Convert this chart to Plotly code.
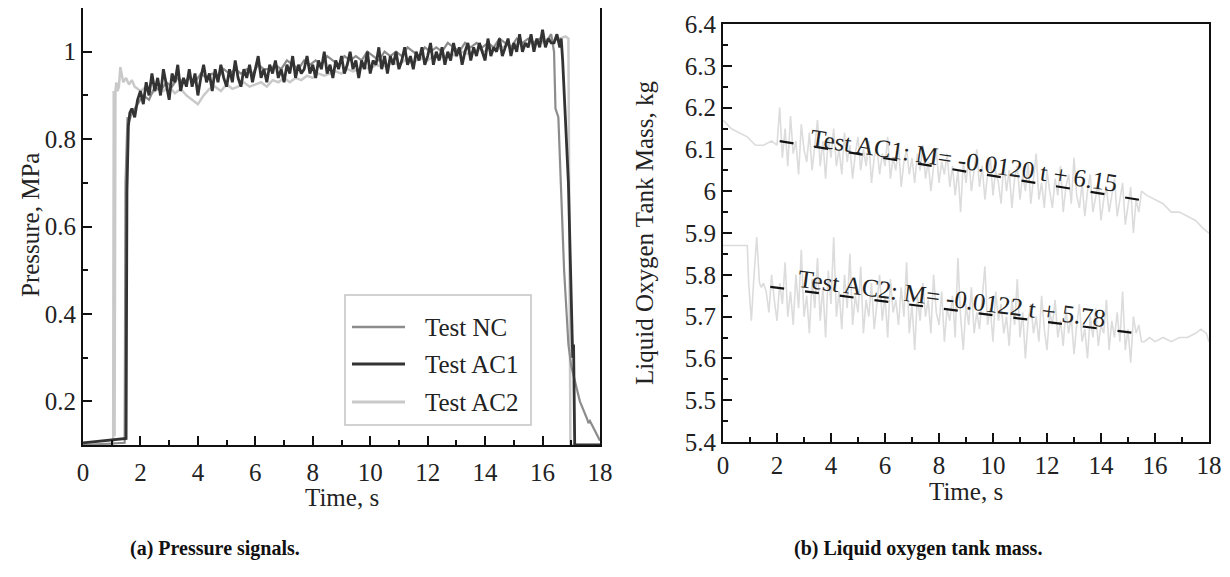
import plotly.graph_objects as go

# ---------------- data: (a) pressure signals ----------------
# Test AC1
p_ac1_head_t = [0.0, 0.5, 1.0, 1.5, 1.53, 1.58, 1.63]
p_ac1_head = [0.105, 0.108, 0.111, 0.115, 0.68, 0.83, 0.86]
p_ac1_noise_t0, p_ac1_noise_dt = 1.7, 0.1
p_ac1_noise = [
    0.87, 0.85, 0.89, 0.91, 0.88, 0.93, 0.90, 0.95, 0.91, 0.94,
    0.90, 0.96, 0.92, 0.89, 0.95, 0.93, 0.97, 0.91, 0.94, 0.92,
    0.96, 0.92, 0.95, 0.90, 0.94, 0.97, 0.93, 0.95, 0.91, 0.96,
    0.93, 0.97, 0.94, 0.92, 0.96, 0.93, 0.98, 0.94, 0.92, 0.96,
    0.94, 0.97, 0.93, 0.96, 0.99, 0.94, 0.96, 0.93, 0.97, 0.95,
    0.98, 0.94, 0.96, 0.93, 0.97, 0.95, 0.99, 0.94, 0.97, 0.95,
    0.96, 0.99, 0.95, 0.97, 0.94, 0.98, 0.96, 1.00, 0.95, 0.97,
    0.94, 0.98, 0.96, 0.99, 0.95, 0.97, 1.00, 0.96, 0.98, 0.94,
    0.98, 0.96, 1.00, 0.95, 0.98, 0.97, 1.01, 0.96, 0.99, 0.95,
    0.99, 0.97, 1.00, 0.96, 0.98, 1.01, 0.97, 0.99, 0.96, 1.00,
    0.98, 1.01, 0.97, 0.99, 1.02, 0.97, 1.00, 0.98, 1.01, 0.97,
    1.00, 0.98, 1.02, 0.99, 1.01, 0.97, 1.00, 1.02, 0.98, 1.01,
    0.99, 1.02, 1.00, 0.98, 1.03, 0.99, 1.01, 1.00, 1.03, 0.99,
    1.01, 1.03, 0.99, 1.02, 1.00, 1.04, 1.00, 1.02, 1.01, 1.04,
    1.00, 1.03, 1.01, 1.05, 1.01, 1.03, 1.02,
]
p_ac1_tail_t = [16.4, 16.5, 16.6, 16.65, 16.7, 16.9, 17.05, 17.08, 17.12, 18.0]
p_ac1_tail = [1.02, 1.04, 1.01, 1.03, 0.98, 0.70, 0.30, 0.33, 0.10, 0.10]

# Test NC
p_nc_head_t = [0.0, 1.45, 1.48, 1.55, 1.6]
p_nc_head = [0.10, 0.105, 0.70, 0.85, 0.84]
p_nc_noise_t0, p_nc_noise_dt = 1.7, 0.2
p_nc_noise = [
    0.86, 0.88, 0.90, 0.89, 0.92, 0.91, 0.93, 0.92, 0.94, 0.93,
    0.94, 0.93, 0.95, 0.94, 0.95, 0.94, 0.96, 0.95, 0.96, 0.95,
    0.96, 0.95, 0.97, 0.96, 0.96, 0.97, 0.96, 0.98, 0.97, 0.96,
    0.98, 0.97, 0.98, 0.97, 0.99, 0.98, 0.97, 0.99, 0.98, 0.99,
    0.98, 1.00, 0.99, 0.98, 1.00, 0.99, 1.00, 0.99, 1.01, 1.00,
    0.99, 1.01, 1.00, 1.01, 1.00, 1.02, 1.01, 1.00, 1.02, 1.01,
    1.02, 1.01, 1.02, 1.01, 1.03, 1.02, 1.01, 1.03, 1.02, 1.03,
    1.02, 1.03, 1.02, 1.04,
]
p_nc_tail_t = [16.4, 16.45, 16.55, 16.75, 16.9, 17.0, 17.3, 17.55, 17.6, 17.65, 18.0]
p_nc_tail = [1.00, 0.87, 0.85, 0.50, 0.33, 0.28, 0.20, 0.16, 0.15, 0.155, 0.11]

# Test AC2
p_ac2_head_t = [0.0, 1.05, 1.07, 1.1, 1.13, 1.16, 1.2, 1.25, 1.3, 1.35, 1.4, 1.5, 1.6, 1.7, 1.8, 1.9]
p_ac2_head = [0.10, 0.10, 0.91, 0.12, 0.91, 0.93, 0.91, 0.92, 0.965, 0.95, 0.93, 0.94, 0.925, 0.935, 0.92, 0.915]
p_ac2_noise_t0, p_ac2_noise_dt = 2.0, 0.2
p_ac2_noise = [
    0.91, 0.92, 0.905, 0.915, 0.91, 0.92, 0.905, 0.915, 0.90, 0.89,
    0.88, 0.90, 0.915, 0.92, 0.91, 0.925, 0.915, 0.92, 0.93, 0.92,
    0.925, 0.93, 0.92, 0.935, 0.93, 0.94, 0.93, 0.94, 0.935, 0.945,
    0.94, 0.95, 0.945, 0.95, 0.955, 0.95, 0.96, 0.955, 0.96, 0.965,
    0.96, 0.97, 0.965, 0.97, 0.975, 0.97, 0.98, 0.975, 0.98, 0.985,
    0.98, 0.99, 0.985, 0.99, 0.995, 0.99, 1.00, 0.995, 1.00, 1.005,
    1.00, 1.01, 1.005, 1.01, 1.015, 1.01, 1.02, 1.015, 1.02, 1.025,
    1.02, 1.03, 1.025, 1.03, 1.035,
]
p_ac2_tail_t = [16.9, 16.97, 18.0]
p_ac2_tail = [1.03, 0.10, 0.10]

series_names = ["Test NC", "Test AC1", "Test AC2"]
series_colors = ["#8c8c8c", "#333333", "#c9c9c9"]
series_widths = [2.2, 2.8, 2.5]

# ---------------- data: (b) liquid oxygen tank mass ----------------
m_ac1_head_t = [0.0, 0.3, 0.6, 0.9, 1.2, 1.5, 1.8, 2.0, 2.1]
m_ac1_head = [6.17, 6.15, 6.14, 6.13, 6.11, 6.11, 6.12, 6.11, 6.20]
m_ac1_noise_t0, m_ac1_noise_dt = 2.2, 0.1
m_ac1_noise = [
    6.08, 6.15, 6.06, 6.18, 6.09, 6.12, 6.04, 6.16, 6.10, 6.07,
    6.14, 6.05, 6.11, 6.17, 6.06, 6.12, 6.03, 6.13, 6.08, 6.15,
    6.06, 6.10, 6.04, 6.14, 6.07, 6.11, 6.03, 6.09, 6.13, 6.05,
    6.10, 6.06, 6.12, 6.02, 6.08, 6.11, 6.04, 6.09, 6.06, 6.13,
    6.03, 6.08, 6.05, 6.11, 6.01, 6.07, 6.10, 6.04, 6.08, 6.02,
    6.09, 6.05, 6.11, 6.03, 6.07, 6.00, 6.06, 6.10, 6.02, 6.07,
    6.04, 6.09, 6.01, 6.06, 5.99, 6.05, 5.95, 6.07, 6.02, 6.08,
    6.00, 6.05, 6.10, 6.01, 6.06, 5.98, 6.04, 6.08, 5.99, 6.05,
    6.02, 5.97, 6.07, 6.00, 6.05, 5.96, 6.03, 6.06, 5.98, 6.04,
    6.00, 6.07, 5.97, 6.03, 6.09, 5.98, 6.02, 5.96, 6.05, 6.00,
    5.96, 6.03, 5.99, 6.06, 5.95, 6.01, 6.04, 5.97, 6.08, 5.99,
    5.96, 6.02, 5.94, 6.00, 6.04, 5.95, 5.99, 6.02, 5.93, 5.98,
    6.01, 5.95, 5.99, 6.03, 5.94, 5.98, 6.02, 5.92, 5.97, 6.01,
    5.90, 5.98, 5.95, 6.00,
]
m_ac1_tail_t = [15.7, 16.0, 16.3, 16.6, 16.9, 17.2, 17.5, 17.8, 18.0]
m_ac1_tail = [5.99, 5.98, 5.97, 5.95, 5.95, 5.94, 5.93, 5.91, 5.90]

m_ac2_head_t = [0.0, 0.9, 0.95, 1.05, 1.15, 1.25, 1.35, 1.42]
m_ac2_head = [5.87, 5.87, 5.78, 5.69, 5.80, 5.89, 5.78, 5.77]
m_ac2_noise_t0, m_ac2_noise_dt = 1.5, 0.1
m_ac2_noise = [
    5.78, 5.76, 5.71, 5.80, 5.74, 5.69, 5.78, 5.73, 5.83, 5.70,
    5.76, 5.68, 5.80, 5.72, 5.86, 5.70, 5.75, 5.66, 5.79, 5.72,
    5.84, 5.69, 5.77, 5.65, 5.81, 5.73, 5.89, 5.70, 5.76, 5.67,
    5.80, 5.72, 5.85, 5.68, 5.75, 5.71, 5.82, 5.66, 5.74, 5.70,
    5.78, 5.67, 5.73, 5.80, 5.69, 5.75, 5.65, 5.79, 5.71, 5.74,
    5.68, 5.77, 5.70, 5.83, 5.66, 5.73, 5.62, 5.75, 5.69, 5.78,
    5.70, 5.74, 5.66, 5.80, 5.71, 5.68, 5.76, 5.64, 5.72, 5.69,
    5.75, 5.65, 5.84, 5.70, 5.62, 5.73, 5.68, 5.77, 5.66, 5.71,
    5.67, 5.74, 5.82, 5.68, 5.72, 5.64, 5.76, 5.69, 5.73, 5.66,
    5.70, 5.63, 5.74, 5.68, 5.79, 5.65, 5.71, 5.60, 5.69, 5.73,
    5.66, 5.70, 5.64, 5.75, 5.67, 5.62, 5.71, 5.68, 5.74, 5.65,
    5.69, 5.63, 5.72, 5.66, 5.70, 5.61, 5.68, 5.73, 5.64, 5.67,
    5.60, 5.70, 5.65, 5.72, 5.63, 5.68, 5.66, 5.74, 5.62, 5.69,
    5.65, 5.71, 5.64, 5.76, 5.62, 5.67, 5.59, 5.70, 5.66, 5.68,
    5.64,
]
m_ac2_tail_t = [15.6, 15.8, 16.0, 16.3, 16.6, 16.9, 17.2, 17.5, 17.7, 17.9, 18.0]
m_ac2_tail = [5.64, 5.65, 5.64, 5.65, 5.64, 5.65, 5.65, 5.66, 5.67, 5.66, 5.64]

# linear fit lines (end points as drawn)
fit_ac1_t = [2.1, 15.45]
fit_ac1_m = [6.120, 5.979]
fit_ac2_t = [1.75, 15.2]
fit_ac2_m = [5.771, 5.661]
fit_ac1_label = "Test AC1: M= -0.0120 t + 6.15"
fit_ac2_label = "Test AC2: M= -0.0122 t + 5.78"

x_ticks = [0, 2, 4, 6, 8, 10, 12, 14, 16, 18]


def grid(t0, dt, n):
    return [round(t0 + dt * i, 4) for i in range(n)]


def join(ht, hv, t0, dt, nv, tt, tv):
    return ht + grid(t0, dt, len(nv)) + tt, hv + nv + tv


FONT = "Liberation Serif, Times New Roman, serif"
OFF = 8                      # page offset of the figure inside the html body
W, H = 1230 - OFF, 577 - OFF


def px(x):
    return min(1.0, max(0.0, (x - OFF) / W))


def py(y):
    return min(1.0, max(0.0, 1 - (y - OFF) / H))


fig = go.Figure()

# pressure traces (drawn light -> dark)
p_series = {
    "Test AC2": join(p_ac2_head_t, p_ac2_head, p_ac2_noise_t0, p_ac2_noise_dt, p_ac2_noise, p_ac2_tail_t, p_ac2_tail),
    "Test NC": join(p_nc_head_t, p_nc_head, p_nc_noise_t0, p_nc_noise_dt, p_nc_noise, p_nc_tail_t, p_nc_tail),
    "Test AC1": join(p_ac1_head_t, p_ac1_head, p_ac1_noise_t0, p_ac1_noise_dt, p_ac1_noise, p_ac1_tail_t, p_ac1_tail),
}
for name in ["Test AC2", "Test NC", "Test AC1"]:
    i = series_names.index(name)
    t, v = p_series[name]
    fig.add_trace(go.Scatter(x=t, y=v, mode="lines", name=name,
                             line=dict(color=series_colors[i], width=series_widths[i]), xaxis="x", yaxis="y"))

# mass traces
t, v = join(m_ac1_head_t, m_ac1_head, m_ac1_noise_t0, m_ac1_noise_dt, m_ac1_noise, m_ac1_tail_t, m_ac1_tail)
fig.add_trace(go.Scatter(x=t, y=v, mode="lines", name="Test AC1 mass",
                         line=dict(color="#dcdcdc", width=1.6), xaxis="x2", yaxis="y2"))
t, v = join(m_ac2_head_t, m_ac2_head, m_ac2_noise_t0, m_ac2_noise_dt, m_ac2_noise, m_ac2_tail_t, m_ac2_tail)
fig.add_trace(go.Scatter(x=t, y=v, mode="lines", name="Test AC2 mass",
                         line=dict(color="#dcdcdc", width=1.6), xaxis="x2", yaxis="y2"))
fig.add_trace(go.Scatter(x=fit_ac1_t, y=fit_ac1_m, mode="lines", name="AC1 fit",
                         line=dict(color="#111111", width=2.2, dash="14px,21px"), xaxis="x2", yaxis="y2"))
fig.add_trace(go.Scatter(x=fit_ac2_t, y=fit_ac2_m, mode="lines", name="AC2 fit",
                         line=dict(color="#111111", width=2.2, dash="14px,21px"), xaxis="x2", yaxis="y2"))

FS = 25
tickfont = dict(family=FONT, size=FS, color="#222222")
axis_common = dict(showline=True, linecolor="#111111", linewidth=2, mirror=True, ticks="inside",
                   tickcolor="#111111", tickwidth=2, showgrid=False, zeroline=False, tickfont=tickfont,
                   automargin=False)
minor_common = dict(ticklen=5, ticks="inside", tickcolor="#111111", tickwidth=1.5)

# panel geometry in page pixels
L1, R1, T1, B1 = 83, 600, 5, 445
L2, R2, T2, B2 = 723, 1209, 24, 442

fig.update_layout(
    width=W, height=H, margin=dict(l=0, r=0, t=0, b=0, autoexpand=False),
    paper_bgcolor="white", plot_bgcolor="white",
    font=dict(family=FONT, color="#222222"),
    showlegend=False,
    xaxis=dict(domain=[px(L1), px(R1)], range=[0, 18], tickvals=x_ticks, ticklen=9, ticklabelstandoff=4,
               minor=dict(dtick=1, tick0=0, **minor_common), anchor="y", **axis_common),
    yaxis=dict(domain=[py(B1), py(T1)], range=[0.1, 1.1], tick0=0.2, dtick=0.2, ticklen=9,
               minor=dict(dtick=0.1, tick0=0.1, **minor_common), anchor="x", **axis_common),
    xaxis2=dict(domain=[px(L2), px(R2)], range=[0, 18], tickvals=x_ticks, ticklen=9,
                minor=dict(dtick=1, tick0=0, **minor_common), anchor="y2", **axis_common),
    yaxis2=dict(domain=[py(B2), py(T2)], range=[5.4, 6.4], tick0=5.4, dtick=0.1, ticklen=9,
                minor=dict(dtick=0.05, tick0=5.4, **minor_common), anchor="x2", **axis_common),
)

txt = dict(family=FONT, size=FS, color="#222222")
ann = []
shapes = []


def note(text, x, y, angle=0, font=txt, xanchor="center"):
    ann.append(dict(text=text, x=px(x), y=py(y), xref="paper", yref="paper", xanchor=xanchor,
                    yanchor="middle", textangle=angle, showarrow=False, font=font))


# legend box (a)
LG_L, LG_R, LG_T, LG_B = 345, 531, 295, 425
LG_ROWS = [327, 364, 402]
shapes.append(dict(type="rect", xref="paper", yref="paper", x0=px(LG_L), x1=px(LG_R), y0=py(LG_B), y1=py(LG_T),
                   line=dict(color="#c4c4c4", width=1.5), fillcolor="white", layer="above"))
for i, name in enumerate(series_names):
    shapes.append(dict(type="line", xref="paper", yref="paper", x0=px(352), x1=px(405),
                       y0=py(LG_ROWS[i]), y1=py(LG_ROWS[i]),
                       line=dict(color=series_colors[i], width=series_widths[i] + 0.3), layer="above"))
    note(name, 423, LG_ROWS[i], xanchor="left")

note("Pressure, MPa", 30, 225, -90)
note("Time, s", (L1 + R1) / 2, 497)
note("Liquid Oxygen Tank Mass, kg", 645, 233, -90)
note("Time, s", (L2 + R2) / 2, 491)
cap = dict(family=FONT, size=20, color="#111111")
note("<b>(a) Pressure signals.</b>", 215, 548, font=cap)
note("<b>(b) Liquid oxygen tank mass.</b>", 918, 548, font=cap)

# fit equations, sitting on their dashed lines
for lab, ft, fm, ang, dx in [(fit_ac1_label, fit_ac1_t, fit_ac1_m, 8.5, 0.15),
                             (fit_ac2_label, fit_ac2_t, fit_ac2_m, 7.5, 0.0)]:
    xc = (ft[0] + ft[1]) / 2 + dx
    yc = fm[0] + (fm[1] - fm[0]) * (xc - ft[0]) / (ft[1] - ft[0])
    ann.append(dict(text=lab, x=xc, y=yc, xref="x2", yref="y2", showarrow=False, textangle=ang,
                    xanchor="center", yanchor="middle", yshift=11, font=txt))

fig.update_layout(annotations=ann, shapes=shapes)

fig.write_html("out.html")
